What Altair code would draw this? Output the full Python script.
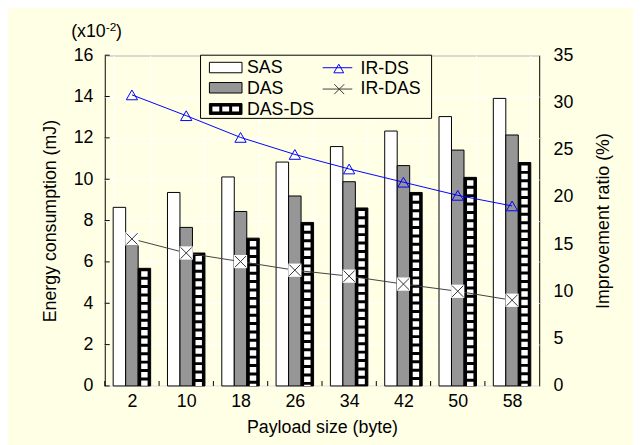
import altair as alt
import pandas as pd

# ---- data ----
payloads = [2, 10, 18, 26, 34, 42, 50, 58]
sas = [8.64, 9.36, 10.11, 10.83, 11.58, 12.33, 13.03, 13.91]
das = [6.80, 7.67, 8.44, 9.19, 9.88, 10.66, 11.41, 12.14]
das_ds = [5.69, 6.43, 7.15, 7.91, 8.61, 9.36, 10.09, 10.81]
ir_ds = [30.8, 28.6, 26.3, 24.5, 22.96, 21.56, 20.17, 19.05]
ir_das = [15.56, 14.07, 13.16, 12.25, 11.62, 10.78, 10.02, 9.07]

bar_series = ["SAS", "DAS", "DAS-DS"]
line_series = ["IR-DS", "IR-DAS"]
left_ticks = [0, 2, 4, 6, 8, 10, 12, 14, 16]
right_ticks = [0, 5, 10, 15, 20, 25, 30, 35]

bars_df = pd.DataFrame(
    [{"payload": p, "series": s, "energy": v}
     for s, vals in zip(bar_series, [sas, das, das_ds])
     for p, v in zip(payloads, vals)]
)
lines_df = pd.DataFrame(
    [{"payload": p, "series": s, "ratio": v}
     for s, vals in zip(line_series, [ir_ds, ir_das])
     for p, v in zip(payloads, vals)]
)
ltick_df = pd.DataFrame({"energy": left_ticks})
xtick_df = pd.DataFrame({"payload": payloads})
ONE = alt.Data(values=[{"k": 1}])

# ---- styles ----
BG = "#FFFFE6"
FONT = "Liberation Sans"
SAS_FILL, DAS_FILL, DASDS_FILL = "white", "#969696", "black"
IRDS_COL, IRDAS_COL = "#0000FF", "#404040"
XMARK = "M-1,-1L1,1M-1,1L1,-1"

x_scale = alt.Scale(paddingInner=0.31, paddingOuter=0.155)
x_axis = alt.Axis(title="Payload size (byte)", labelAngle=0, tickSize=0,
                  labelPadding=7, titlePadding=8, grid=True, gridColor="white",
                  gridOpacity=1, tickBand="extent", domain=False)
x_enc = alt.X("payload:O", sort=payloads, scale=x_scale, axis=x_axis)
xoff = alt.XOffset("series:N", sort=bar_series,
                   scale=alt.Scale(paddingInner=0, paddingOuter=0))

left_axis = alt.Axis(title="Energy consumption (mJ)", values=left_ticks,
                     tickSize=0, labelPadding=12, titlePadding=13.5, grid=True,
                     gridColor="white", gridOpacity=1, domain=False)
right_axis = alt.Axis(title="Improvement ratio (%)", values=right_ticks,
                      orient="right", tickSize=0, labelPadding=14,
                      titlePadding=22, titleAngle=270, titleBaseline="top",
                      grid=False, domain=False)
y_left = alt.Y("energy:Q", scale=alt.Scale(domain=[0, 16], nice=False),
               axis=left_axis)
y_right = alt.Y("ratio:Q", scale=alt.Scale(domain=[0, 35], nice=False),
                axis=right_axis)

fill_scale = alt.Scale(domain=bar_series, range=[SAS_FILL, DAS_FILL, DASDS_FILL])
stroke_scale = alt.Scale(domain=line_series, range=[IRDS_COL, IRDAS_COL])

bars = alt.Chart(bars_df).mark_bar(stroke="black", strokeWidth=1).encode(
    x=x_enc, xOffset=xoff, y=y_left,
    fill=alt.Fill("series:N", scale=fill_scale, legend=None),
)

pattern = alt.Chart(bars_df).transform_filter(
    alt.datum.series == "DAS-DS"
).mark_rule(color="white", strokeWidth=6.5, strokeDash=[5.5, 3],
            strokeDashOffset=5.5).encode(
    x=x_enc, xOffset=xoff, y=y_left, y2=alt.datum(0),
)

# inward ticks
lticks = alt.Chart(ltick_df).mark_rule(color="black", strokeWidth=1).encode(
    y=y_left, x=alt.value(0), x2=alt.value(5),
)
xticks = alt.Chart(xtick_df).mark_rule(
    color="black", strokeWidth=1, xOffset=-8.5
).encode(
    x=alt.X("payload:O", sort=payloads, scale=x_scale, axis=x_axis,
            bandPosition=0),
    y=alt.value(330), y2=alt.value(335),
)


# ---- legend (drawn by hand, Excel style) ----
def vrect(x1, x2, y1, y2, fill, stroke=None):
    kw = {"fill": fill}
    if stroke:
        kw.update(stroke=stroke, strokeWidth=1)
    return alt.Chart(ONE).mark_rect(**kw).encode(
        x=alt.value(x1), x2=alt.value(x2), y=alt.value(y1), y2=alt.value(y2))


def vtext(x, y, s, size=18):
    return alt.Chart(ONE).mark_text(
        align="left", baseline="alphabetic", fontSize=size, font=FONT,
        color="black").encode(x=alt.value(x), y=alt.value(y), text=alt.value(s))


def vline(x1, x2, y, color):
    return alt.Chart(ONE).mark_rule(color=color, strokeWidth=1).encode(
        x=alt.value(x1), x2=alt.value(x2), y=alt.value(y))


def vpoint(x, y, shape, size, color, filled=False):
    return alt.Chart(ONE).mark_point(
        shape=shape, size=size, filled=filled, color=color, strokeWidth=1,
        opacity=1).encode(x=alt.value(x), y=alt.value(y))


legend_layers = [
    vrect(97, 331, 0, 64, BG, "black"),
    vrect(106, 139, 7.2, 17.8, SAS_FILL, "black"),
    vrect(106, 139, 27.7, 38.3, DAS_FILL, "black"),
    vrect(106, 139, 49, 60, DASDS_FILL, "black"),
    vrect(109, 116, 52, 57, "white"),
    vrect(119, 126, 52, 57, "white"),
    vrect(129, 136, 52, 57, "white"),
    vtext(144, 18, bar_series[0]),
    vtext(144, 39, bar_series[1]),
    vtext(144, 60.5, bar_series[2]),
    vline(220.7, 250.7, 12.7, IRDS_COL),
    vpoint(237, 13.5, "triangle-up", 100, IRDS_COL),
    vline(220.7, 250.7, 34.3, IRDAS_COL),
    vpoint(237.5, 34.4, XMARK, 100, "#333333"),
    vtext(259, 18.7, line_series[0]),
    vtext(259, 39.7, line_series[1]),
    vtext(-34, -18, "(x10"),
    vtext(1, -24, "-2", 12),
    vtext(11.5, -18, ")"),
]

lines = alt.Chart(lines_df).mark_line(strokeWidth=1).encode(
    x=x_enc, y=y_right,
    stroke=alt.Stroke("series:N", scale=stroke_scale, legend=None),
    detail="series:N",
)

tri = alt.Chart(lines_df).transform_filter(
    alt.datum.series == "IR-DS"
).mark_point(shape="triangle-up", size=130, filled=False, color=IRDS_COL,
             strokeWidth=1, opacity=1).encode(x=x_enc, y=y_right)

xbg = alt.Chart(lines_df).transform_filter(
    alt.datum.series == "IR-DAS"
).mark_point(shape="square", size=180, filled=True, color="white",
             opacity=1).encode(x=x_enc, y=y_right)

xmk = alt.Chart(lines_df).transform_filter(
    alt.datum.series == "IR-DAS"
).mark_point(shape=XMARK, size=130, filled=False, color="#333333",
             strokeWidth=1, opacity=1).encode(x=x_enc, y=y_right)

left = alt.layer(bars, pattern, lticks, xticks, *legend_layers)
right = alt.layer(lines, tri, xbg, xmk)

chart = alt.layer(left, right).resolve_scale(y="independent").properties(
    width=440, height=335,
    autosize=alt.AutoSizeParams(type="none"),
    padding={"left": 98, "top": 45, "right": 95, "bottom": 57},
    background=BG,
).configure_view(
    stroke="black", strokeWidth=1, fill=BG
).configure_axis(
    labelFont=FONT, titleFont=FONT, labelFontSize=18, titleFontSize=18,
    labelColor="black", titleColor="black", titleFontWeight="normal",
)

chart.save("out.html", embed_options={"renderer": "svg", "actions": False})
